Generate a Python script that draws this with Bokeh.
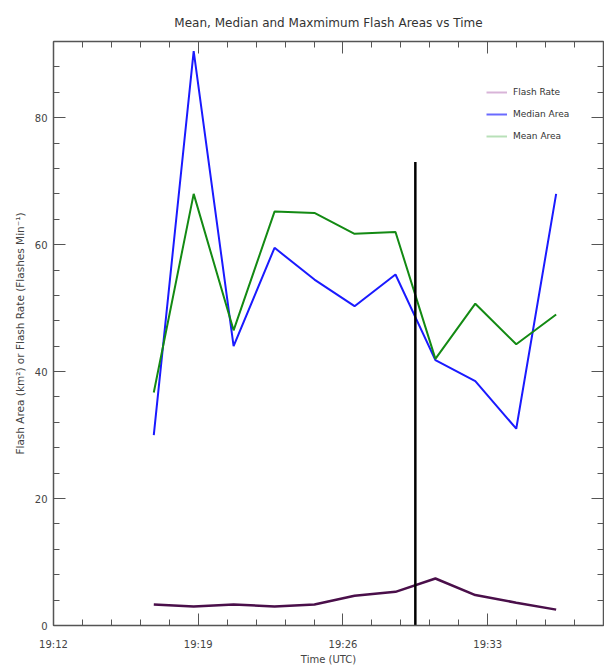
from bokeh.plotting import figure
from bokeh.models import (Range1d, FixedTicker, LinearAxis, Legend, LegendItem)
from bokeh.embed import file_html
from bokeh.resources import INLINE

nan = float("nan")

# ---- data (minutes after 19:12 UTC) ----
minutes = [4.85, 6.78, 8.71, 10.69, 12.62, 14.56, 16.54, 18.47, 20.40, 22.38, 24.31]
median_area = [30.0, 90.5, 44.0, 59.5, 54.5, 50.3, 55.3, 41.8, 38.5, 31.0, 68.0]
mean_area = [36.7, 68.0, 46.5, 65.2, 65.0, 61.7, 62.0, 42.0, 50.7, 44.3, 49.0]
flash_rate = [3.3, 3.0, 3.3, 3.0, 3.3, 4.7, 5.3, 7.4, 4.8, 3.6, 2.5]
event_time = [17.5]
event_bottom = [0.0]
event_top = [73.0]

x_major = [0, 7, 14, 21, 28]
x_labels = ["19:12", "19:19", "19:26", "19:33", "19:40"]
x_minor = [round(i * 1.4, 2) for i in range(0, 21)]
y_major = [0, 20, 40, 60, 80]
y_minor = list(range(0, 96, 4))

AX = "#555555"
TXT = "#444444"
FONT = "DejaVu Sans"

p = figure(width=612, height=667, output_backend="svg", toolbar_location=None,
           x_range=Range1d(0, 26.6), y_range=Range1d(0, 92),
           min_border_left=61, min_border_right=1, min_border_top=41,
           min_border_bottom=40)
p.styles = {"margin-left": "-8px"}

p.title.text = "Mean, Median and Maxmimum Flash Areas vs Time"
p.title.align = "center"
p.title.vertical_align = "top"
p.title.text_font = FONT
p.title.text_font_size = "12px"
p.title.text_font_style = "normal"
p.title.text_color = "#333333"
p.title.offset = 0
p.title.standoff = 19

p.grid.visible = False
p.outline_line_color = None

def style_axis(ax):
    ax.axis_line_color = AX
    ax.axis_line_width = 1.5
    ax.major_tick_line_color = AX
    ax.minor_tick_line_color = AX
    ax.major_tick_in = 12
    ax.major_tick_out = 0
    ax.minor_tick_in = 6
    ax.minor_tick_out = 0
    ax.major_label_text_font = FONT
    ax.major_label_text_font_size = "10px"
    ax.major_label_text_color = TXT
    ax.axis_label_text_font = FONT
    ax.axis_label_text_font_size = "10px"
    ax.axis_label_text_font_style = "normal"
    ax.axis_label_text_color = TXT

xt = FixedTicker(ticks=x_major, minor_ticks=x_minor)
yt = FixedTicker(ticks=y_major, minor_ticks=y_minor)

p.xaxis.ticker = xt
p.xaxis.major_label_overrides = {t: l for t, l in zip(x_major, x_labels)}
p.xaxis.axis_label = "Time (UTC)"
p.yaxis.ticker = yt
p.yaxis.axis_label = "Flash Area (km\u00b2) or Flash Rate (Flashes Min\u207b\u00b9)"
style_axis(p.xaxis[0])
style_axis(p.yaxis[0])
p.xaxis.major_label_standoff = 13
p.xaxis.axis_label_standoff = 1
p.yaxis.major_label_standoff = 6
p.yaxis.axis_label_standoff = 6
p.yaxis.axis_label_text_font_size = "10.5px"

top_ax = LinearAxis(ticker=FixedTicker(ticks=x_major, minor_ticks=x_minor),
                    major_label_overrides={t: "" for t in x_major})
right_ax = LinearAxis(ticker=FixedTicker(ticks=y_major, minor_ticks=y_minor),
                      major_label_overrides={t: "" for t in y_major})
style_axis(top_ax)
style_axis(right_ax)
top_ax.major_label_standoff = 0
right_ax.major_label_standoff = 0
p.add_layout(top_ax, "above")
p.add_layout(right_ax, "right")

r_med = p.line(minutes, median_area, line_color="#1a1aff", line_width=2)
r_mean = p.line(minutes, mean_area, line_color="#138a13", line_width=2)
r_fr = p.line(minutes, flash_rate, line_color="#4a0f4a", line_width=2.5)
p.segment(x0=event_time, y0=event_bottom, x1=event_time, y1=event_top,
          line_color="black", line_width=2.5)

# legend swatches (lighter colours, as in the original)
l_fr = p.line([nan], [nan], line_color="#d8b4d8", line_width=2)
l_med = p.line([nan], [nan], line_color="#6a6aff", line_width=2)
l_mean = p.line([nan], [nan], line_color="#b8e0b8", line_width=2)

legend = Legend(items=[LegendItem(label="Flash Rate", renderers=[l_fr], index=0),
                       LegendItem(label="Median Area", renderers=[l_med], index=0),
                       LegendItem(label="Mean Area", renderers=[l_mean], index=0)],
                location=(433, 479), orientation="vertical",
                background_fill_alpha=0, border_line_color=None,
                padding=0, margin=0, spacing=2,
                glyph_width=21, glyph_height=20, label_height=20,
                label_standoff=6, label_text_font=FONT,
                label_text_font_size="9px", label_text_color="#333333")
p.add_layout(legend)

open("out.html", "w").write(file_html(p, INLINE))
